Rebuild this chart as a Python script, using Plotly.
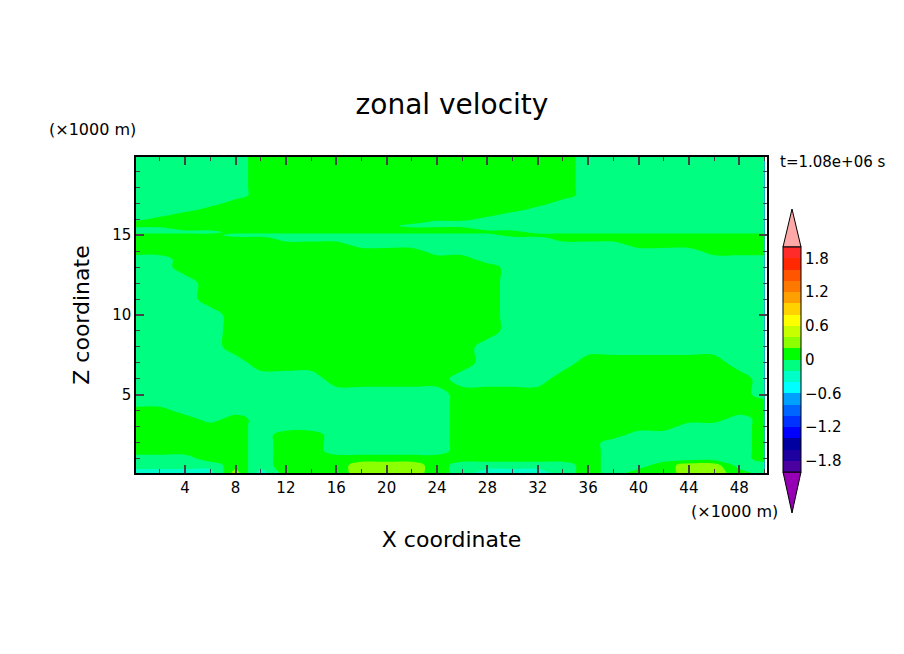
import plotly.graph_objects as go
import numpy as np

# x positions (km) of grid columns, z levels (km) of grid rows
x_km = list(range(0, 51, 2))
z_km = [19.9, 19.0, 18.0, 17.5, 17.0, 16.6, 16.3, 16.0, 15.8, 15.6, 15.4, 15.2, 15.0,
        14.8, 14.4, 14.0, 13.5, 13.0, 12.0, 11.0, 10.0, 9.0, 8.0, 7.0, 6.0, 5.0, 4.5,
        4.0, 3.5, 3.0, 2.5, 2.0, 1.5, 1.0, 0.6, 0.1]
# read-off field: '.'=-0.1, 'g'=0.1, 'y'=0.3, 'c'=-0.3
rows = [
    ".....ggggggggggggg........",
    ".....ggggggggggggg........",
    ".....ggggggggggggg........",
    ".....ggggggggggggg........",
    "....ggggggggggggg.........",
    "...ggggggggggggg..........",
    "..ggggggggggggg...........",
    ".ggggggggggggg............",
    "gggggggggggg..............",
    "ggggggggggg...............",
    "..gggggggggggg............",
    "....gggggggggggg..........",
    "gggg...........ggggggggggg",
    "gggggg...........ggggggggg",
    "ggggggggg...........gggggg",
    "gggggggggggg...........ggg",
    "..gggggggggggg............",
    "..ggggggggggggg...........",
    "...gggggggggggg...........",
    "...gggggggggggg...........",
    "....ggggggggggg...........",
    "....ggggggggggg...........",
    "....gggggggggg............",
    ".....ggggggggg....gggggg..",
    "........ggggg....gggggggg.",
    ".............gggggggggggg.",
    ".............ggggggggggggg",
    "gg...........ggggggggggggg",
    "ggg.g........ggggggggggg.g",
    "ggggg........ggggggggg...g",
    "ggggg.gg.....ggggggg.....g",
    "ggggg.gg.....gggggg......g",
    "ggggg.gg.....gggggg......g",
    "...gg.ggggggggggggg......g",
    "....g.gggyyyg.....g..gyy..",
    "ccccycgggyyyg.ccc.g.ggyyg.",
]
code = {'.': -0.1, 'g': 0.1, 'y': 0.3, 'c': -0.3}
Z = np.array([[code[ch] for ch in r] for r in rows])

band_colors = ["#4b00a0", "#1e00a0", "#0000a0", "#0000ff", "#0032ff", "#0064ff",
               "#00a0ff", "#00ffff", "#00ffc8", "#00ff80", "#00ff00", "#8cff00",
               "#c8ff00", "#ffff00", "#ffd200", "#ffa000", "#ff7800", "#ff5500",
               "#ff2800", "#ff2a2a"]
n = len(band_colors)
cs = []
for i, c in enumerate(band_colors):
    cs.append([i / n, c])
    cs.append([(i + 1) / n, c])

fig = go.Figure(go.Contour(
    x=x_km, y=z_km, z=Z,
    zmin=-2, zmax=2, autocontour=False,
    contours=dict(start=-2, end=2, size=0.2, coloring="fill", showlines=False),
    colorscale=cs,
    colorbar=dict(x=(783 - 136) / 631, xanchor="left", y=1 / 316, yanchor="bottom",
                  len=225 / 316, lenmode="fraction", thickness=18, outlinewidth=1,
                  outlinecolor="black", tickvals=[-1.8, -1.2, -0.6, 0, 0.6, 1.2, 1.8],
                  ticktext=["−1.8", "−1.2", "−0.6", "0", "0.6", "1.2", "1.8"],
                  tickfont=dict(size=15, color="black", family="DejaVu Sans"),
                  ticks="", xpad=0, ypad=0),
))

def px(xp):
    return (xp - 136) / 631

def py(yp):
    return (473 - yp) / 316

shapes = [
    dict(type="path", xref="paper", yref="paper",
         path=f"M {px(783)} {py(247)} L {px(801)} {py(247)} L {px(792)} {py(209)} Z",
         fillcolor="#ffa8a8", line=dict(color="black", width=1)),
    dict(type="path", xref="paper", yref="paper",
         path=f"M {px(783)} {py(472)} L {px(801)} {py(472)} L {px(792)} {py(513)} Z",
         fillcolor="#9600b4", line=dict(color="black", width=1)),
]
for k in range(1, n):
    yy = 472 - k * 225 / n
    shapes.append(dict(type="line", xref="paper", yref="paper", x0=px(783), x1=px(801),
                       y0=py(yy), y1=py(yy), line=dict(color="black", width=1.5)))

font = "DejaVu Sans"
fig.update_layout(
    width=904, height=654,
    margin=dict(l=128, r=145, t=149, b=189, autoexpand=False),
    paper_bgcolor="white", plot_bgcolor="white",
    font=dict(family=font, color="black", size=15),
    shapes=shapes,
    title=dict(text="zonal velocity", x=(452 - 8) / 904, xanchor="center",
               y=1 - 96 / 654, yanchor="middle", font=dict(size=28, family=font)),
    xaxis=dict(range=[0.1, 50.2], tickvals=list(range(4, 49, 4)), ticks="inside",
               ticklen=8, tickwidth=1.5, mirror="allticks", showline=True,
               linecolor="black", linewidth=1.5, showgrid=False, zeroline=False,
               minor=dict(dtick=2, ticks="inside", ticklen=4, tickwidth=1),
               title=dict(text="X coordinate", font=dict(size=22), standoff=36)),
    yaxis=dict(range=[0.1, 19.9], tickvals=[5, 10, 15], ticks="inside",
               ticklen=8, tickwidth=1.5, mirror="allticks", showline=True,
               linecolor="black", linewidth=1.5, showgrid=False, zeroline=False,
               minor=dict(dtick=1, ticks="inside", ticklen=4, tickwidth=1),
               title=dict(text="Z coordinate", font=dict(size=22), standoff=16)),
    annotations=[
        dict(text="(×1000 m)", xref="paper", yref="paper", x=px(47), y=py(129),
             xanchor="left", yanchor="middle", showarrow=False, font=dict(size=16)),
        dict(text="(×1000 m)", xref="paper", yref="paper", x=px(780), y=py(511),
             xanchor="right", yanchor="middle", showarrow=False, font=dict(size=16)),
        dict(text="t=1.08e+06 s", xref="paper", yref="paper", x=px(778), y=py(162),
             xanchor="left", yanchor="middle", showarrow=False, font=dict(size=15)),
    ],
)
fig.write_html("out.html")
